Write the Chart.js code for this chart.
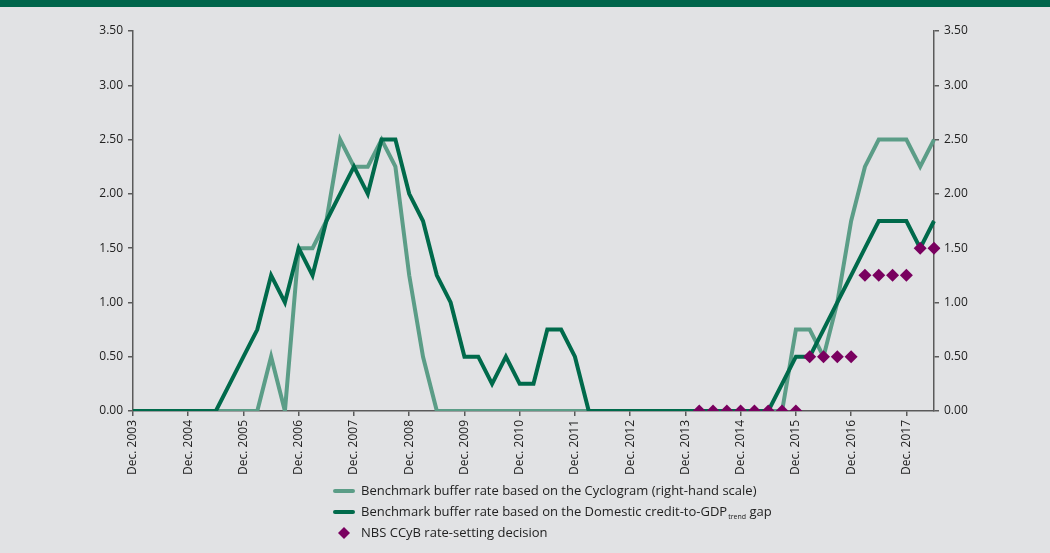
<!DOCTYPE html>
<html>
<head>
<meta charset="utf-8">
<style>
  html, body { margin: 0; padding: 0; background: #e1e2e4; }
  #wrap { position: relative; width: 1050px; height: 553px; }
  canvas { display: block; }
</style>
<script src="https://cdn.jsdelivr.net/npm/chart.js@4.4.1/dist/chart.umd.min.js"></script>
</head>
<body>
<div id="wrap"><canvas id="c" width="1050" height="553"></canvas></div>
<script>
// Quarterly observations, Dec. 2003 – Jun. 2018
const quarterMonths = ['Dec.', 'Mar.', 'Jun.', 'Sep.'];
const categories = [];
for (let i = 0; i < 59; i++) {
  const q = i % 4;
  const year = 2003 + Math.ceil(i / 4);
  categories.push(quarterMonths[q] + ' ' + year);
}

// Benchmark buffer rate based on the Cyclogram (right-hand scale)
const cyclogram = [
  0, 0, 0, 0, 0, 0, 0, 0, 0, 0,
  0.5, 0, 1.5, 1.5, 1.75, 2.5, 2.25, 2.25, 2.5, 2.25,
  1.25, 0.5, 0, 0, 0, 0, 0, 0, 0, 0,
  0, 0, 0, 0, 0, 0, 0, 0, 0, 0,
  0, 0, 0, 0, 0, 0, 0, 0, 0.75, 0.75,
  0.5, 1.0, 1.75, 2.25, 2.5, 2.5, 2.5, 2.25, 2.5
];

// Benchmark buffer rate based on the domestic credit-to-GDP trend gap
const creditGap = [
  0, 0, 0, 0, 0, 0, 0, 0.25, 0.5, 0.75,
  1.25, 1.0, 1.5, 1.25, 1.75, 2.0, 2.25, 2.0, 2.5, 2.5,
  2.0, 1.75, 1.25, 1.0, 0.5, 0.5, 0.25, 0.5, 0.25, 0.25,
  0.75, 0.75, 0.5, 0, 0, 0, 0, 0, 0, 0,
  0, 0, 0, 0, 0, 0, 0, 0.25, 0.5, 0.5,
  0.75, 1.0, 1.25, 1.5, 1.75, 1.75, 1.75, 1.5, 1.75
];

// NBS CCyB rate-setting decisions (null before the first decision)
const ccybDecision = [
  null, null, null, null, null, null, null, null, null, null,
  null, null, null, null, null, null, null, null, null, null,
  null, null, null, null, null, null, null, null, null, null,
  null, null, null, null, null, null, null, null, null, null,
  null, 0, 0, 0, 0, 0, 0, 0, 0, 0.5,
  0.5, 0.5, 0.5, 1.25, 1.25, 1.25, 1.25, 1.5, 1.5
];

const yTicks = [0, 0.5, 1, 1.5, 2, 2.5, 3, 3.5];

const seriesNames = [
  'Benchmark buffer rate based on the Cyclogram (right-hand scale)',
  ['Benchmark buffer rate based on the Domestic credit-to-GDP', 'trend', ' gap'],
  'NBS CCyB rate-setting decision'
];

const COL_LIGHT = '#5b9d87';
const COL_DARK = '#006a4b';
const COL_PURPLE = '#79005f';
const COL_AXIS = '#5a5a5a';
const FONT = '"Open Sans", "Noto Sans", sans-serif';

// Page background and the green header strip
const backdrop = {
  id: 'backdrop',
  beforeDraw(chart) {
    const ctx = chart.ctx;
    ctx.save();
    ctx.fillStyle = '#e1e2e4';
    ctx.fillRect(0, 0, chart.width, chart.height);
    ctx.fillStyle = '#00654b';
    ctx.fillRect(0, 0, chart.width, 7);
    ctx.restore();
  }
};

// Legend under the plot, with a subscript in the second entry
const legendBelow = {
  id: 'legendBelow',
  afterDraw(chart) {
    const ctx = chart.ctx;
    const x0 = 333, xt = 361;
    const rows = [491, 512, 533];
    const main = '13px ' + FONT;
    ctx.save();
    ctx.textBaseline = 'middle';
    ctx.fillStyle = '#222';
    ctx.font = main;
    // row 1
    ctx.strokeStyle = COL_LIGHT; ctx.lineWidth = 4; ctx.lineCap = 'round';
    ctx.beginPath(); ctx.moveTo(x0 + 2, rows[0]); ctx.lineTo(x0 + 20, rows[0]); ctx.stroke();
    ctx.fillText(seriesNames[0], xt, rows[0]);
    // row 2
    ctx.strokeStyle = COL_DARK;
    ctx.beginPath(); ctx.moveTo(x0 + 2, rows[1]); ctx.lineTo(x0 + 20, rows[1]); ctx.stroke();
    const [a, sub, b] = seriesNames[1];
    ctx.fillText(a, xt, rows[1]);
    const w = ctx.measureText(a).width;
    ctx.font = '7px ' + FONT;
    ctx.fillText(sub, xt + w + 1, rows[1] + 5);
    const ws = ctx.measureText(sub).width;
    ctx.font = main;
    ctx.fillText(b, xt + w + ws + 1, rows[1]);
    // row 3
    ctx.fillStyle = COL_PURPLE;
    const cx = x0 + 11, cy = rows[2];
    ctx.beginPath();
    ctx.moveTo(cx, cy - 6); ctx.lineTo(cx + 6, cy); ctx.lineTo(cx, cy + 6); ctx.lineTo(cx - 6, cy);
    ctx.closePath(); ctx.fill();
    ctx.fillStyle = '#222';
    ctx.fillText(seriesNames[2], xt, rows[2]);
    ctx.restore();
  }
};

const yAxis = (position) => ({
  type: 'linear',
  position,
  min: 0,
  max: 3.5,
  afterBuildTicks(scale) { scale.ticks = yTicks.map(v => ({ value: v })); },
  afterFit(scale) { scale.width = position === 'left' ? 133 : 1050 - 934; },
  border: { display: true, color: COL_AXIS, width: 1.5 },
  grid: { drawOnChartArea: false, drawTicks: true, tickLength: 5, color: COL_AXIS, lineWidth: 1.5 },
  ticks: {
    color: '#222',
    font: { family: FONT, size: 12 },
    padding: 5,
    callback: v => Number(v).toFixed(2)
  }
});

new Chart(document.getElementById('c'), {
  type: 'line',
  data: {
    labels: categories,
    datasets: [
      {
        label: seriesNames[2],
        data: ccybDecision,
        yAxisID: 'y',
        showLine: false,
        pointStyle: 'rectRot',
        pointRadius: 6.5,
        pointHoverRadius: 6.5,
        backgroundColor: COL_PURPLE,
        borderColor: COL_PURPLE,
        borderWidth: 0,
        order: 0
      },
      {
        label: seriesNames[1].join(''),
        data: creditGap,
        yAxisID: 'y',
        borderColor: COL_DARK,
        borderWidth: 4,
        pointRadius: 0,
        tension: 0,
        order: 1
      },
      {
        label: seriesNames[0],
        data: cyclogram,
        yAxisID: 'y1',
        borderColor: COL_LIGHT,
        borderWidth: 4,
        pointRadius: 0,
        tension: 0,
        order: 2
      }
    ]
  },
  options: {
    responsive: false,
    animation: false,
    layout: { padding: { top: 31, bottom: 0, left: 0, right: 0 } },
    plugins: { legend: { display: false }, tooltip: { enabled: false } },
    scales: {
      x: {
        type: 'category',
        offset: false,
        afterFit(scale) { scale.height = 553 - 31 - 380; },
        border: { display: true, color: COL_AXIS, width: 1.5 },
        grid: {
          drawOnChartArea: false,
          drawTicks: true,
          tickLength: 5,
          lineWidth: 1.5,
          color: c => (c.index % 4 === 0 ? COL_AXIS : 'rgba(0,0,0,0)')
        },
        ticks: {
          autoSkip: false,
          maxRotation: 90,
          minRotation: 90,
          padding: 4,
          color: '#222',
          font: { family: FONT, size: 12 },
          callback: function (v, i) { return i % 4 === 0 ? this.getLabelForValue(v) : ''; }
        }
      },
      y: yAxis('left'),
      y1: yAxis('right')
    }
  },
  plugins: [backdrop, legendBelow]
});
</script>
</body>
</html>
